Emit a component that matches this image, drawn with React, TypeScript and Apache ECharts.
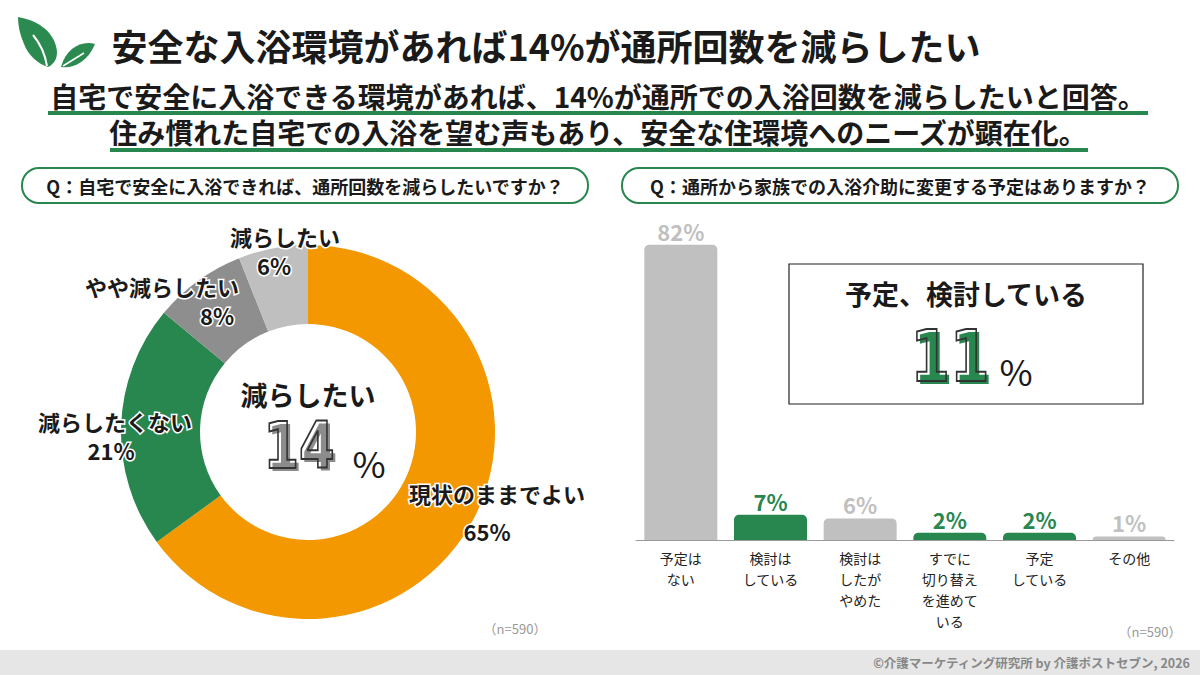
import React, { useEffect, useRef } from "react";
import * as echarts from "echarts";

const pieNames = ["現状のままでよい", "減らしたくない", "やや減らしたい", "減らしたい"];
const pieValues = [65, 21, 8, 6];
const pieColors = ["#f39800", "#27874f", "#8e8e8e", "#bfbfbf"];

const barCategories = [
  "予定は\nない",
  "検討は\nしている",
  "検討は\nしたが\nやめた",
  "すでに\n切り替え\nを進めて\nいる",
  "予定\nしている",
  "その他",
];
const barValues = [82, 7, 6, 2, 2, 1];
const barHighlight = [false, true, false, true, true, false];

const FONT = "'Noto Sans CJK JP', 'Noto Sans', sans-serif";
const GREEN = "#27874f";
const LIGHT = "#c0c0c0";

// label placement for the donut (x, y of label block, line height, value shift)
const pieLabelLayout = [
  { x: 497, y: 512, lh: 38, shift: -10 },
  { x: 115, y: 435, lh: 29, shift: -4 },
  { x: 162, y: 300, lh: 29, shift: 55 },
  { x: 285, y: 250, lh: 29, shift: -11 },
];

echarts.graphic.registerShape(
  "leafBig",
  echarts.graphic.extendPath(
    "M18,17 C36,20 52,30 56,46 C59,56 55,64 48,67 C38,64 28,55 24,44 C20,35 18,26 18,17 Z",
    {}
  )
);
echarts.graphic.registerShape(
  "leafSmall",
  echarts.graphic.extendPath("M95,44 C82,40 66,48 61,67 C72,69 88,62 95,44 Z", {})
);

function bigNumber(text: string, cx: number, cy: number, size: number, color: string) {
  const common = {
    fontSize: size,
    fontWeight: "bold",
    fontFamily: "'DejaVu Sans', sans-serif",
    text,
    x: 0,
    y: 0,
    align: "center",
    verticalAlign: "middle",
    textAlign: "center",
    textVerticalAlign: "middle",
  };
  return [
    {
      type: "text",
      x: cx + 3,
      y: cy + 3,
      scaleX: 0.8,
      style: { ...common, fill: color },
    },
    {
      type: "text",
      x: cx,
      y: cy,
      scaleX: 0.8,
      style: { ...common, fill: "none", stroke: "#333333", lineWidth: 2 },
    },
  ];
}

function txt(text: string, x: number, y: number, size: number, color: string, weight = "bold", align = "center") {
  return {
    type: "text",
    x,
    y,
    style: {
      text,
      x: 0,
      y: 0,
      fontSize: size,
      fontWeight: weight,
      fontFamily: FONT,
      fill: color,
      align,
      verticalAlign: "middle",
      textAlign: align,
      textVerticalAlign: "middle",
    },
  };
}

export default function App() {
  const ref = useRef<HTMLDivElement>(null);

  useEffect(() => {
    document.body.style.margin = "0";
    const chart = echarts.init(ref.current!, null, { renderer: "svg" });

    const pieData = pieNames.map((name, i) => {
      const l = pieLabelLayout[i];
      const pad = l.shift >= 0 ? [0, 0, 0, 2 * l.shift] : [0, -2 * l.shift, 0, 0];
      return {
        name,
        value: pieValues[i],
        itemStyle: { color: pieColors[i] },
        label: {
          rich: {
            n: {
              fontSize: 22,
              fontWeight: "bold",
              fontFamily: FONT,
              color: "#1a1a1a",
              lineHeight: l.lh,
              textBorderColor: "#ffffff",
              textBorderWidth: 3,
            },
            v: {
              fontSize: 22,
              fontWeight: "bold",
              fontFamily: FONT,
              color: "#1a1a1a",
              lineHeight: l.lh,
              textBorderColor: "#ffffff",
              textBorderWidth: 3,
              padding: pad,
            },
          },
        },
      };
    });

    const barData = barValues.map((v, i) => {
      const c = barHighlight[i] ? GREEN : LIGHT;
      return {
        value: v,
        itemStyle: { color: c, borderRadius: [5, 5, 0, 0] },
        label: { color: c },
      };
    });

    const graphics: any[] = [
      // logo
      { type: "leafBig", x: 0, y: 0, style: { fill: "#2b8a50" } },
      {
        type: "bezierCurve",
        shape: { x1: 33, y1: 35, x2: 47, y2: 66, cpx1: 44, cpy1: 48 },
        style: { stroke: "#ffffff", lineWidth: 2, fill: "none" },
      },
      { type: "leafSmall", x: 0, y: 0, style: { fill: "#2b8a50" } },
      {
        type: "line",
        shape: { x1: 63, y1: 66, x2: 84, y2: 53 },
        style: { stroke: "#ffffff", lineWidth: 1.5 },
      },
      // title
      txt("安全な入浴環境があれば14%が通所回数を減らしたい", 546, 45, 36, "#1a1a1a"),
      txt("自宅で安全に入浴できる環境があれば、14%が通所での入浴回数を減らしたいと回答。", 598, 96, 28, "#1a1a1a"),
      { type: "rect", shape: { x: 48, y: 111, width: 1100, height: 4 }, style: { fill: GREEN } },
      txt("住み慣れた自宅での入浴を望む声もあり、安全な住環境へのニーズが顕在化。", 598, 132, 28, "#1a1a1a"),
      { type: "rect", shape: { x: 110, y: 148, width: 978, height: 4 }, style: { fill: GREEN } },
      // question boxes
      {
        type: "rect",
        shape: { x: 22, y: 168, width: 566, height: 35, r: 17 },
        style: { fill: "#ffffff", stroke: GREEN, lineWidth: 2 },
      },
      txt("Q：自宅で安全に入浴できれば、通所回数を減らしたいですか？", 305, 186, 18, "#1a1a1a"),
      {
        type: "rect",
        shape: { x: 622, y: 168, width: 556, height: 35, r: 17 },
        style: { fill: "#ffffff", stroke: GREEN, lineWidth: 2 },
      },
      txt("Q：通所から家族での入浴介助に変更する予定はありますか？", 900, 186, 18, "#1a1a1a"),
      // donut center
      txt("減らしたい", 308, 394, 27, "#1a1a1a"),
      ...bigNumber("14", 299, 446, 64, "#8c8c8c"),
      txt("%", 369, 462, 36, "#1a1a1a", "normal"),
      // highlight box
      {
        type: "rect",
        shape: { x: 789, y: 264, width: 354, height: 140 },
        style: { fill: "#ffffff", stroke: "#222222", lineWidth: 1.2 },
      },
      txt("予定、検討している", 966, 293, 27, "#1a1a1a"),
      ...bigNumber("11", 950, 356, 71, GREEN),
      txt("%", 1016, 370, 36, "#1a1a1a", "normal"),
      // notes
      txt("（n=590）", 515, 628, 13, "#999999", "normal"),
      txt("（n=590）", 1150, 631, 13, "#999999", "normal"),
      // footer
      { type: "rect", shape: { x: 0, y: 650, width: 1200, height: 25 }, style: { fill: "#e6e6e6" } },
      txt("©介護マーケティング研究所 by 介護ポストセブン, 2026", 1190, 662, 12.5, "#888888", "bold", "right"),
    ];

    chart.setOption({
      animation: false,
      backgroundColor: "#ffffff",
      textStyle: { fontFamily: FONT },
      grid: { left: 636, right: 26, top: 180, bottom: 135 },
      xAxis: {
        type: "category",
        data: barCategories,
        axisLine: { show: true, lineStyle: { color: "#999999", width: 1 } },
        axisTick: { show: false },
        axisLabel: {
          color: "#222222",
          fontSize: 14,
          lineHeight: 21,
          margin: 7,
          fontFamily: FONT,
          interval: 0,
        },
      },
      yAxis: { type: "value", min: 0, max: 100, show: false, splitLine: { show: false } },
      graphic: graphics,
      series: [
        {
          type: "bar",
          data: barData,
          barWidth: 73,
          silent: true,
          label: {
            show: true,
            position: "top",
            distance: 3,
            formatter: "{c}%",
            fontSize: 22,
            fontWeight: "bold",
            fontFamily: FONT,
          },
        },
        {
          type: "pie",
          center: [308, 432],
          radius: [108, 187],
          startAngle: 90,
          clockwise: true,
          silent: true,
          data: pieData,
          label: {
            show: true,
            position: "inside",
            formatter: (p: any) => `{n|${p.name}}\n{v|${p.value}%}`,
          },
          labelLine: { show: false },
          labelLayout: (p: any) => {
            const l = pieLabelLayout[p.dataIndex];
            return { x: l.x, y: l.y, align: "center", verticalAlign: "middle" };
          },
          emphasis: { disabled: true },
        },
      ],
    });

    return () => chart.dispose();
  }, []);

  return <div ref={ref} style={{ width: 1200, height: 675 }} />;
}
